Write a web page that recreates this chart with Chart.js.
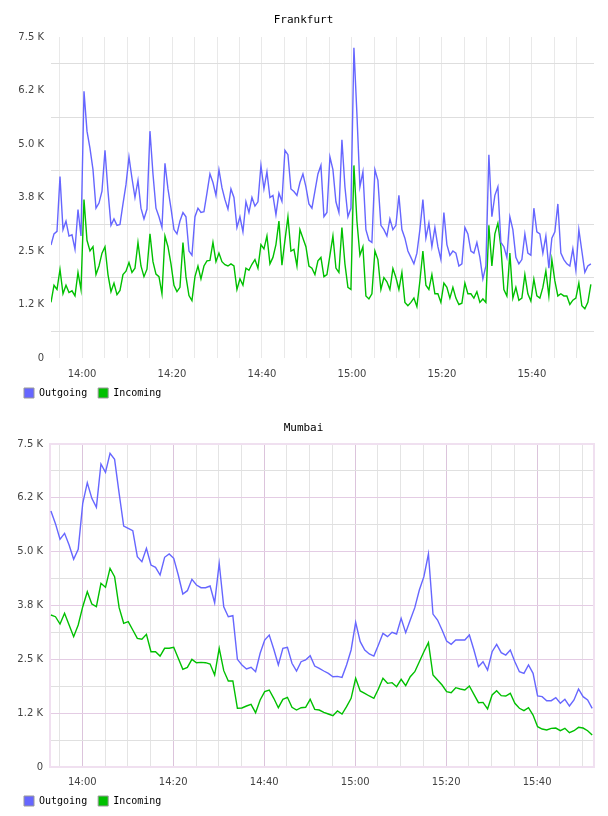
<!DOCTYPE html>
<html>
<head>
<meta charset="utf-8">
<script src="https://cdn.jsdelivr.net/npm/chart.js@4.4.1/dist/chart.umd.min.js"></script>
<style>
  body { margin: 0; background: #fff; width: 608px; height: 816px; overflow: hidden; }
  .box { position: absolute; left: 0; width: 608px; height: 408px; }
</style>
</head>
<body>
<div class="box" style="top:0"><canvas id="frankfurt-chart"></canvas></div>
<div class="box" style="top:408px"><canvas id="mumbai-chart"></canvas></div>
<script>
// times are minutes after midnight
var frankfurt_start = 833.1;
var frankfurt_step = 40 / 60;
var frankfurt_outgoing = [
  2640, 2900, 2960, 4240, 3000, 3200, 2850, 2880, 2540, 3470, 2850, 6230, 5300, 4900, 4400, 3500, 3620, 3900, 4850, 3900,
  3100, 3250, 3100, 3120, 3600, 4050, 4700, 4200, 3750, 4150, 3500, 3250, 3480, 5300, 4300, 3500, 3300, 3050, 4550, 3950,
  3500, 3000, 2900, 3200, 3400,
  3300, 2500, 2400, 3300, 3500, 3400, 3420, 3850, 4300, 4100, 3800, 4400, 3980, 3700, 3480, 3950, 3750, 3050, 3300, 2950,
  3650, 3400, 3750, 3550, 3650, 4500, 3950, 4350, 3750, 3800, 3350, 3850, 3660, 4850, 4750, 3950, 3890, 3800, 4100, 4300,
  4000, 3600, 3500, 3900, 4300, 4500,
  3300, 3400, 4700, 4400, 3650, 3400, 5100, 4000, 3300, 3500, 7250, 5700, 4000, 4350, 3000, 2750, 2700, 4400, 4150, 3100,
  3000, 2850, 3250, 3000, 3100, 3800, 3000, 2800, 2500, 2350, 2200, 2450, 3000, 3700, 2800, 3150, 2600, 3050, 2600, 2300,
  3400, 2650, 2400, 2500, 2450,
  2150, 2200, 3050, 2900, 2500, 2450, 2700, 2350, 1850, 2150, 4750, 3300, 3800, 4000, 2700, 2600, 2350, 3300, 3000, 2350,
  2200, 2300, 2900, 2450, 2400, 3500, 2950, 2900, 2450, 2850, 2100, 2800, 2950, 3600, 2450, 2300, 2200, 2150, 2550, 2050,
  3000, 2500, 2000, 2150, 2200
];
var frankfurt_incoming = [
  1300, 1700, 1600, 2070, 1500, 1700, 1530, 1570, 1450, 2000, 1600, 3700, 2750, 2500, 2600, 1950, 2150, 2450, 2600, 1950,
  1550, 1750, 1480, 1580, 1950, 2030, 2230, 2000, 2100, 2700, 2150, 1900, 2075, 2900, 2250, 1960, 1900, 1500, 2850, 2600,
  2200, 1700, 1550, 1650, 2700,
  1900, 1460, 1340, 1900, 2150, 1850, 2150, 2270, 2280, 2700, 2250, 2450, 2250, 2180, 2150, 2200, 2150, 1600, 1850, 1700,
  2100, 2050, 2190, 2300, 2100, 2650, 2550, 2850, 2200, 2350, 2650, 3200, 2170, 2750, 3300, 2500, 2540, 2150, 3000, 2800,
  2600, 2150, 2100, 1950, 2270, 2350,
  1900, 1950, 2400, 2850, 2100, 2000, 3050, 2200, 1650, 1600, 4500, 3200, 2400, 2600, 1450, 1380, 1500, 2500, 2300, 1600,
  1880, 1780, 1600, 2090, 1880, 1600, 2000, 1300, 1220, 1300, 1400, 1200, 1800, 2500, 1700, 1600, 1950, 1500, 1500, 1300,
  1750, 1650, 1400, 1650, 1400,
  1250, 1280, 1750, 1500, 1500, 1400, 1550, 1300, 1380, 1300, 3100, 2150, 2900, 3150, 2600, 1600, 1450, 2450, 1400, 1650,
  1350, 1400, 1950, 1500, 1330, 1840, 1450, 1400, 1650, 2035, 1450, 2300, 1800, 1450, 1500, 1450, 1450, 1250, 1350, 1400,
  1750, 1220, 1150, 1300, 1720
];

var mumbai_start = 833.1;
var mumbai_step = 1;
var mumbai_outgoing = [
  5944, 5650, 5287, 5426, 5155, 4822, 5055, 6123, 6601, 6238, 6030, 7036, 6843, 7284, 7145, 6353, 5596, 5542, 5487, 4883,
  4767, 5078, 4690, 4637, 4458, 4869, 4946, 4846, 4458, 4017, 4094, 4357, 4226, 4163, 4163, 4203, 3815, 4730, 3722, 3490,
  3513, 2500, 2368, 2275, 2314, 2213, 2640, 2949, 3065, 2733, 2368, 2756, 2779, 2408, 2229, 2445,
  2485, 2585, 2345, 2291, 2229, 2175, 2097, 2105, 2082, 2368, 2717, 3360, 2910, 2717, 2624, 2577, 2833, 3104, 3026, 3127,
  3088, 3452, 3120, 3413, 3700, 4110, 4420, 4946, 3550, 3413, 3181, 2926, 2849, 2949, 2949, 2949, 3065, 2717, 2329, 2445,
  2252, 2677, 2849, 2655, 2600, 2717, 2445, 2213, 2175, 2368, 2175, 1649, 1633, 1540, 1540, 1610, 1479, 1572, 1416, 1556,
  1811, 1633, 1556, 1363
];
var mumbai_incoming = [
  3530, 3490, 3320, 3568, 3297, 3026, 3297, 3722, 4071, 3785, 3722, 4265, 4172, 4613, 4420, 3700, 3337, 3374, 3181, 2988,
  2965, 3081, 2677, 2677, 2577, 2756, 2756, 2779, 2524, 2268, 2314, 2500, 2422, 2430, 2422, 2392, 2136, 2756, 2237, 1997,
  1997, 1363, 1370, 1416, 1456, 1261, 1556, 1749, 1788, 1595, 1377, 1572, 1618, 1386, 1323, 1377,
  1386, 1572, 1339, 1323, 1270, 1230, 1192, 1300, 1230, 1400, 1595, 2059, 1765, 1711, 1649, 1595, 1811, 2059, 1943, 1958,
  1865, 2036, 1888, 2097, 2213, 2445, 2677, 2887, 2136, 2020, 1904, 1749, 1726, 1842, 1811, 1788, 1881, 1688, 1493, 1500,
  1347, 1672, 1772, 1656, 1649, 1711, 1479, 1363, 1308, 1377, 1207, 936, 882, 859, 898, 905, 843, 898, 796, 843,
  921, 905, 843, 743
];

var time_labels = ['14:00', '14:20', '14:40', '15:00', '15:20', '15:40'];
var value_labels = ['0', '1.2 K', '2.5 K', '3.8 K', '5.0 K', '6.2 K', '7.5 K'];

function toMinutes(s) {
  var p = s.split(':');
  return Number(p[0]) * 60 + Number(p[1]);
}

function points(start, step, values) {
  return values.map(function (v, i) { return { x: start + i * step, y: v }; });
}

var tickFont = { family: 'DejaVu Sans', size: 10 };
var monoFont = { family: 'DejaVu Sans Mono', size: 11, weight: 'normal' };

function makeConfig(title, start, step, outgoing, incoming, opts) {
  return {
    type: 'line',
    data: {
      datasets: [{
        label: 'Outgoing',
        data: points(start, step, outgoing),
        borderColor: 'rgb(102, 102, 255)',
        backgroundColor: 'rgb(102, 102, 255)',
        borderWidth: 1.4,
        pointRadius: 0,
        fill: false,
        tension: 0
      }, {
        label: 'Incoming',
        data: points(start, step, incoming),
        borderColor: 'rgb(0, 192, 0)',
        backgroundColor: 'rgb(0, 192, 0)',
        borderWidth: 1.4,
        pointRadius: 0,
        fill: false,
        tension: 0
      }]
    },
    options: {
      responsive: true,
      maintainAspectRatio: false,
      animation: false,
      layout: { padding: { left: 13, right: 14, top: 0, bottom: 0 } },
      plugins: {
        title: {
          display: true,
          text: title,
          color: '#000',
          font: monoFont,
          padding: { top: 14, bottom: opts.titleBottom }
        },
        legend: {
          position: 'bottom',
          align: 'start',
          labels: {
            boxWidth: 10,
            boxHeight: 10,
            padding: 11,
            color: '#000',
            font: { family: 'DejaVu Sans Mono', size: 10 },
            generateLabels: function (chart) {
              return chart.data.datasets.map(function (ds, i) {
                return { text: ds.label, fillStyle: ds.borderColor, strokeStyle: '#999', lineWidth: 1, hidden: false, datasetIndex: i };
              });
            }
          }
        },
        tooltip: { enabled: false }
      },
      scales: {
        x: {
          type: 'linear',
          min: opts.xmin,
          max: opts.xmax,
          afterFit: function (s) { s.height = opts.xHeight; },
          afterBuildTicks: function (s) {
            var t = [];
            for (var m = Math.ceil(s.min / 5) * 5; m <= s.max; m += 5) t.push({ value: m });
            s.ticks = t;
          },
          ticks: {
            padding: opts.xPad,
            maxRotation: 0,
            autoSkip: false,
            color: '#444',
            font: tickFont,
            callback: function (v) {
              var i = time_labels.map(toMinutes).indexOf(v);
              return i >= 0 ? time_labels[i] : '';
            }
          },
          grid: {
            drawTicks: false,
            lineWidth: 1,
            color: function (c) { return opts.xGrid(c.tick.value); }
          },
          border: { display: false }
        },
        y: {
          min: 0,
          max: 7500,
          afterFit: function (s) { s.width = opts.yWidth; },
          afterBuildTicks: function (s) {
            var t = [];
            for (var v = 0; v <= 7500; v += 625) t.push({ value: v });
            s.ticks = t;
          },
          ticks: {
            padding: 7,
            color: '#444',
            font: tickFont,
            callback: function (v) {
              return v % 1250 === 0 ? value_labels[v / 1250] : '';
            }
          },
          grid: {
            drawTicks: false,
            lineWidth: 1,
            color: function (c) { return opts.yGrid(c.tick.value); }
          },
          border: { display: false }
        }
      }
    },
    plugins: opts.plugins || []
  };
}

var frankfurt_chart = new Chart(
  document.getElementById('frankfurt-chart'),
  makeConfig('Frankfurt', frankfurt_start, frankfurt_step, frankfurt_outgoing, frankfurt_incoming, {
    xmin: 833.1, xmax: 953.8, titleBottom: 9.8, xPad: 10, xHeight: 19, yWidth: 38,
    xGrid: function () { return '#e9e9e9'; },
    yGrid: function (v) { return v % 1250 === 0 ? 'rgba(0,0,0,0)' : '#dedede'; }
  })
);

var plotBorder = {
  id: 'plotBorder',
  beforeDatasetsDraw: function (chart) {
    var a = chart.chartArea, ctx = chart.ctx;
    ctx.save();
    ctx.strokeStyle = '#f0e0f0';
    ctx.lineWidth = 2;
    ctx.strokeRect(a.left, a.top, a.right - a.left, a.bottom - a.top);
    ctx.restore();
  }
};

var mumbai_chart = new Chart(
  document.getElementById('mumbai-chart'),
  makeConfig('Mumbai', mumbai_start, mumbai_step, mumbai_outgoing, mumbai_incoming, {
    xmin: 832.9, xmax: 952.5, titleBottom: 8.8, xPad: 9, xHeight: 18, yWidth: 37,
    xGrid: function (v) { return v % 20 === 0 ? '#dcc4dc' : '#e4e4e4'; },
    yGrid: function (v) { return v % 1250 === 0 ? '#e4cce4' : '#e0e0e0'; },
    plugins: [plotBorder]
  })
);
</script>
</body>
</html>
